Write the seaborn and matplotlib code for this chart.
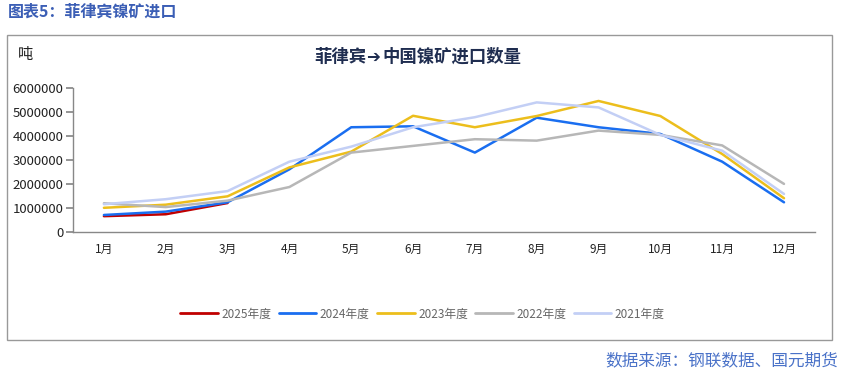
import matplotlib
matplotlib.use("Agg")
import matplotlib.pyplot as plt
from matplotlib.patches import Rectangle
from matplotlib.lines import Line2D
import seaborn as sns
import pandas as pd

sns.set_theme(style="white")
plt.rcParams['font.family'] = ['Noto Sans CJK SC', 'DejaVu Sans']

months = ["1月", "2月", "3月", "4月", "5月", "6月", "7月", "8月", "9月", "10月", "11月", "12月"]
series_names = ["2025年度", "2024年度", "2023年度", "2022年度", "2021年度"]
v2025 = [650000, 730000, 1200000]
v2024 = [700000, 840000, 1230000, 2610000, 4370000, 4410000, 3310000, 4770000, 4370000, 4090000, 2930000, 1230000]
v2023 = [1000000, 1130000, 1480000, 2690000, 3350000, 4850000, 4370000, 4840000, 5470000, 4840000, 3250000, 1400000]
v2022 = [1190000, 1030000, 1300000, 1870000, 3310000, 3590000, 3870000, 3810000, 4230000, 4050000, 3610000, 2000000]
v2021 = [1150000, 1360000, 1700000, 2930000, 3560000, 4370000, 4790000, 5410000, 5200000, 4050000, 3390000, 1580000]
yticks = [0, 1000000, 2000000, 3000000, 4000000, 5000000, 6000000]

colors = ["#c00000", "#1a6ef0", "#ecbe1c", "#b7b7b7", "#c3cff5"]

rows = []
for name, vals in zip(series_names, [v2025, v2024, v2023, v2022, v2021]):
    for i, v in enumerate(vals):
        rows.append({"month": i, "value": v, "series": name})
df = pd.DataFrame(rows)

fig = plt.figure(figsize=(8.45, 3.77), dpi=100)
ax = fig.add_axes([0.0864, 0.3854, 0.878, 0.3804])

sns.lineplot(data=df, x="month", y="value", hue="series", hue_order=series_names,
             palette=dict(zip(series_names, colors)), linewidth=1.8, sort=False,
             legend=False, ax=ax)

ax.set_xlim(-0.5, 11.5)
ax.set_ylim(0, 6000000)
ax.set_yticks(yticks)
ax.set_yticklabels([str(t) for t in yticks], fontsize=9.5, color="#222222")
ax.set_xticks(range(12))
ax.set_xticklabels(months, fontsize=8.5, color="#222222")
ax.set_xticks([i - 0.5 for i in range(13)], minor=True)
ax.tick_params(axis="x", which="major", length=0, pad=8)
ax.tick_params(axis="x", which="minor", length=5, color="#888888", direction="out")
ax.tick_params(axis="y", length=5, color="#888888", direction="out", left=True, pad=2)
ax.set_xlabel("")
ax.set_ylabel("")
for s in ["top", "right"]:
    ax.spines[s].set_visible(False)
for s in ["left", "bottom"]:
    ax.spines[s].set_color("#888888")
    ax.spines[s].set_linewidth(1.0)
ax.grid(False)

# legend
handles = [Line2D([0], [0], color=c, lw=2) for c in colors]
fig.legend(handles, series_names, loc="center", bbox_to_anchor=(0.5, 1 - 314 / 377),
           ncol=5, frameon=False, fontsize=8.5, labelcolor="#666666",
           handlelength=3.2, handletextpad=0.3, columnspacing=0.6)

# outer box
fig.patches.append(Rectangle((7 / 845, 1 - 340 / 377), 825 / 845, 305 / 377,
                             transform=fig.transFigure, fill=False,
                             edgecolor="#999999", linewidth=1.0))

fig.text(8 / 845, 1 - 12 / 377, "图表5：菲律宾镍矿进口", fontsize=11.5, fontweight="bold",
         color="#3b5eb5", va="center", ha="left")
fig.text(366 / 845, 1 - 57 / 377, "菲律宾", fontsize=12.5, fontweight="bold",
         color="#1f2d50", va="center", ha="right")
fig.text(366 / 845, 1 - 57 / 377, "➔", fontsize=12, fontweight="bold",
         color="#1f2d50", va="center", ha="left", family="DejaVu Sans")
fig.text(382 / 845, 1 - 57 / 377, "中国镍矿进口数量", fontsize=12.5, fontweight="bold",
         color="#1f2d50", va="center", ha="left")
fig.text(18 / 845, 1 - 55 / 377, "吨", fontsize=11, color="#222222", va="center", ha="left")
fig.text(838 / 845, 1 - 361 / 377, "数据来源：钢联数据、国元期货", fontsize=12,
         color="#4a72c8", va="center", ha="right")

fig.savefig("out.png", dpi=100)
